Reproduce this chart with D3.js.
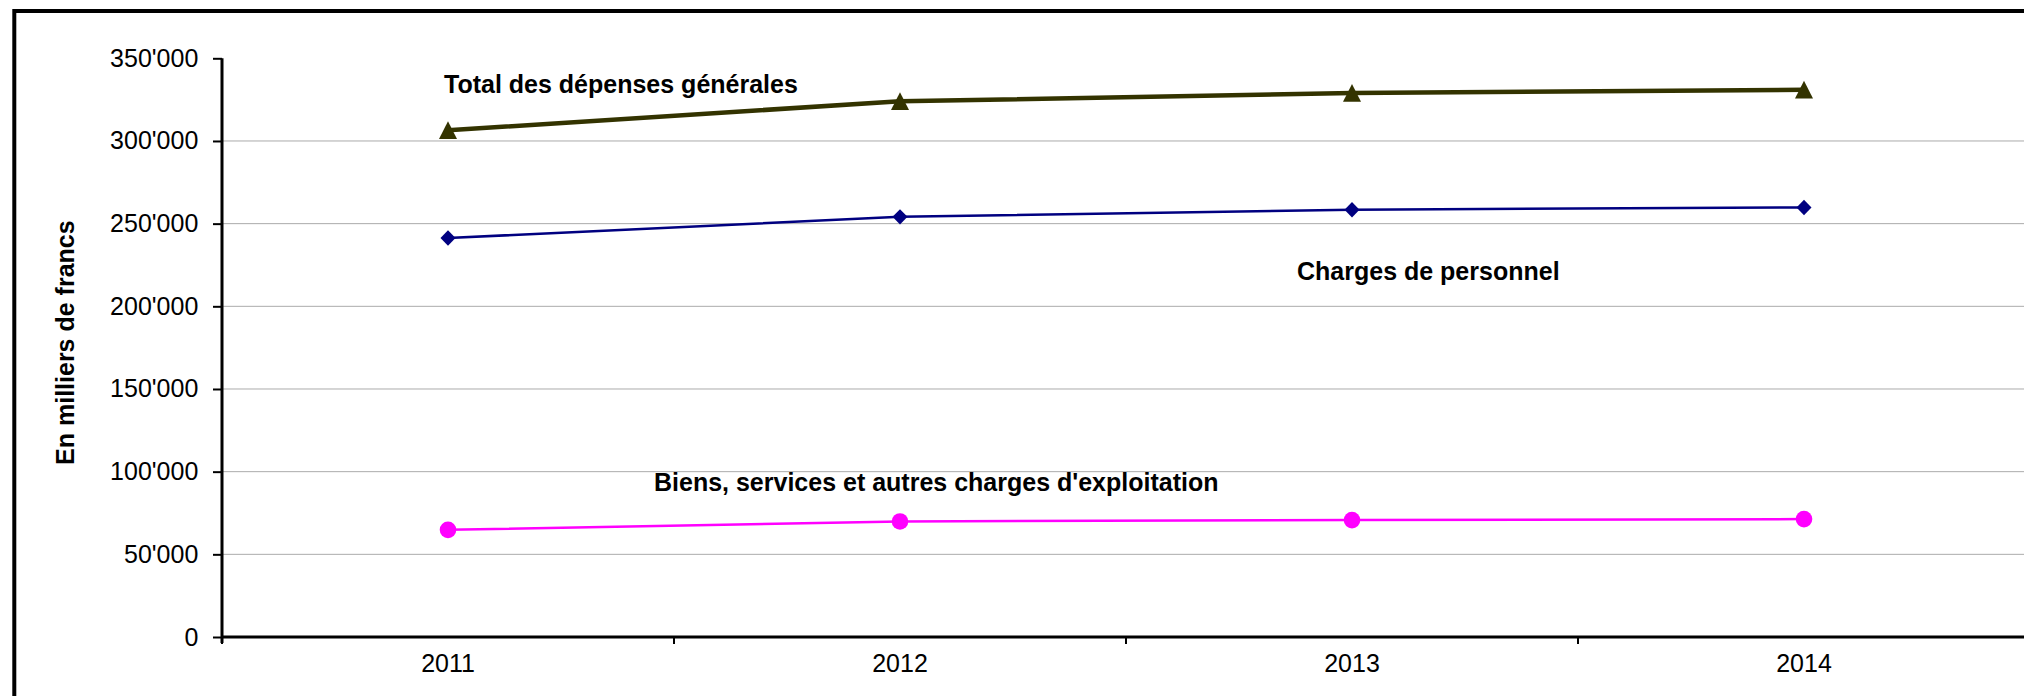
<!DOCTYPE html>
<html>
<head>
<meta charset="utf-8">
<script src="https://cdn.jsdelivr.net/npm/d3@7"></script>
<style>
  html, body { margin: 0; padding: 0; background: #ffffff; }
  svg { display: block; }
  text { font-family: "Liberation Sans", Arial, sans-serif; fill: #000; }
</style>
</head>
<body>
<svg id="chart" width="2024" height="696"></svg>
<script>
// ---- data ----
const categories = ["2011", "2012", "2013", "2014"];
const totalDepenses = [306500, 324000, 329000, 331000];
const chargesPersonnel = [241300, 254100, 258400, 259800];
const biensServices = [64800, 69900, 70700, 71300];
const yTickValues = [0, 50000, 100000, 150000, 200000, 250000, 300000, 350000];
const yTitle = "En milliers de francs";
const seriesNames = ["Total des dépenses générales", "Charges de personnel", "Biens, services et autres charges d'exploitation"];

// ---- layout ----
const W = 2024, H = 696;
const plotLeft = 222, plotRight = 2030, plotTop = 58.3, plotBottom = 637;
const svg = d3.select("#chart");

svg.append("rect").attr("x", 0).attr("y", 0).attr("width", W).attr("height", H).attr("fill", "#fff");
// outer chart frame (extends beyond viewport on the right and bottom)
svg.append("rect")
  .attr("x", 14.3).attr("y", 11).attr("width", 2100).attr("height", 800)
  .attr("fill", "none").attr("stroke", "#000").attr("stroke-width", 4);

const x = d3.scaleBand().domain(categories).range([plotLeft, plotRight]).padding(0);
const y = d3.scaleLinear().domain([0, 350000]).range([plotBottom, plotTop]);
const cx = c => x(c) + x.bandwidth() / 2;

const loc = d3.formatLocale({ decimal: ".", thousands: "'", grouping: [3], currency: ["", ""] });
const fmt = loc.format(",");

// gridlines
svg.append("g").selectAll("line")
  .data(yTickValues.filter(v => v > 0 && v < 350000))
  .join("line")
  .attr("x1", plotLeft).attr("x2", plotRight)
  .attr("y1", d => y(d)).attr("y2", d => y(d))
  .attr("stroke", "#ababab").attr("stroke-width", 1);

// y axis
const yAxis = svg.append("g").attr("transform", `translate(${plotLeft},0)`)
  .call(d3.axisLeft(y).tickValues(yTickValues).tickSize(9).tickPadding(14.7).tickFormat(fmt));
yAxis.select(".domain").attr("stroke", "#000").attr("stroke-width", 3)
  .attr("d", `M0,${y(350000)}V${plotBottom + 6}`);
yAxis.selectAll(".tick line").attr("stroke", "#000").attr("stroke-width", 2);
yAxis.selectAll(".tick text")
  .style("font-family", "'Liberation Sans', Arial, sans-serif")
  .style("font-size", "25px").attr("fill", "#000");

// x axis
const xAxis = svg.append("g").attr("transform", `translate(0,${plotBottom})`)
  .call(d3.axisBottom(x).tickSize(0).tickPadding(17));
xAxis.select(".domain").attr("stroke", "#000").attr("stroke-width", 3)
  .attr("d", `M${plotLeft},0H${plotRight}`);
xAxis.selectAll(".tick text")
  .style("font-family", "'Liberation Sans', Arial, sans-serif")
  .style("font-size", "25px").attr("fill", "#000");
// category-boundary tick marks
xAxis.append("g").selectAll("line")
  .data(categories.map(c => x(c)).concat([x.range()[1]]))
  .join("line")
  .attr("x1", d => d).attr("x2", d => d)
  .attr("y1", 0).attr("y2", 7)
  .attr("stroke", "#000").attr("stroke-width", 2);

// y title
svg.append("text")
  .attr("transform", `translate(73.5,${(plotTop + plotBottom) / 2 - 5}) rotate(-90)`)
  .attr("text-anchor", "middle")
  .style("font-size", "25px").style("font-weight", "bold")
  .text(yTitle);

// series
const line = d3.line().x((d, i) => cx(categories[i])).y(d => y(d));

const series = [
  { values: totalDepenses, color: "#333300", width: 4.5, marker: "triangle" },
  { values: chargesPersonnel, color: "#000080", width: 2.5, marker: "diamond" },
  { values: biensServices, color: "#ff00ff", width: 2.5, marker: "circle" }
];

series.forEach(s => {
  svg.append("path").datum(s.values)
    .attr("d", line).attr("fill", "none")
    .attr("stroke", s.color).attr("stroke-width", s.width)
    .attr("stroke-linejoin", "round");
  const g = svg.append("g");
  s.values.forEach((v, i) => {
    const px = cx(categories[i]), py = y(v);
    if (s.marker === "triangle") {
      g.append("path").attr("d", `M${px},${py - 9}L${px + 9},${py + 8.7}L${px - 9},${py + 8.7}Z`).attr("fill", s.color);
    } else if (s.marker === "diamond") {
      g.append("path").attr("d", `M${px},${py - 7.7}L${px + 7.5},${py}L${px},${py + 7.7}L${px - 7.5},${py}Z`).attr("fill", s.color);
    } else {
      g.append("circle").attr("cx", px).attr("cy", py).attr("r", 8.3).attr("fill", s.color);
    }
  });
});

// series labels
const labelPos = [[444, 93], [1297, 280], [654, 491]];
seriesNames.forEach((n, i) => {
  svg.append("text")
    .attr("x", labelPos[i][0]).attr("y", labelPos[i][1])
    .style("font-size", "25px").style("font-weight", "bold")
    .text(n);
});
</script>
</body>
</html>
